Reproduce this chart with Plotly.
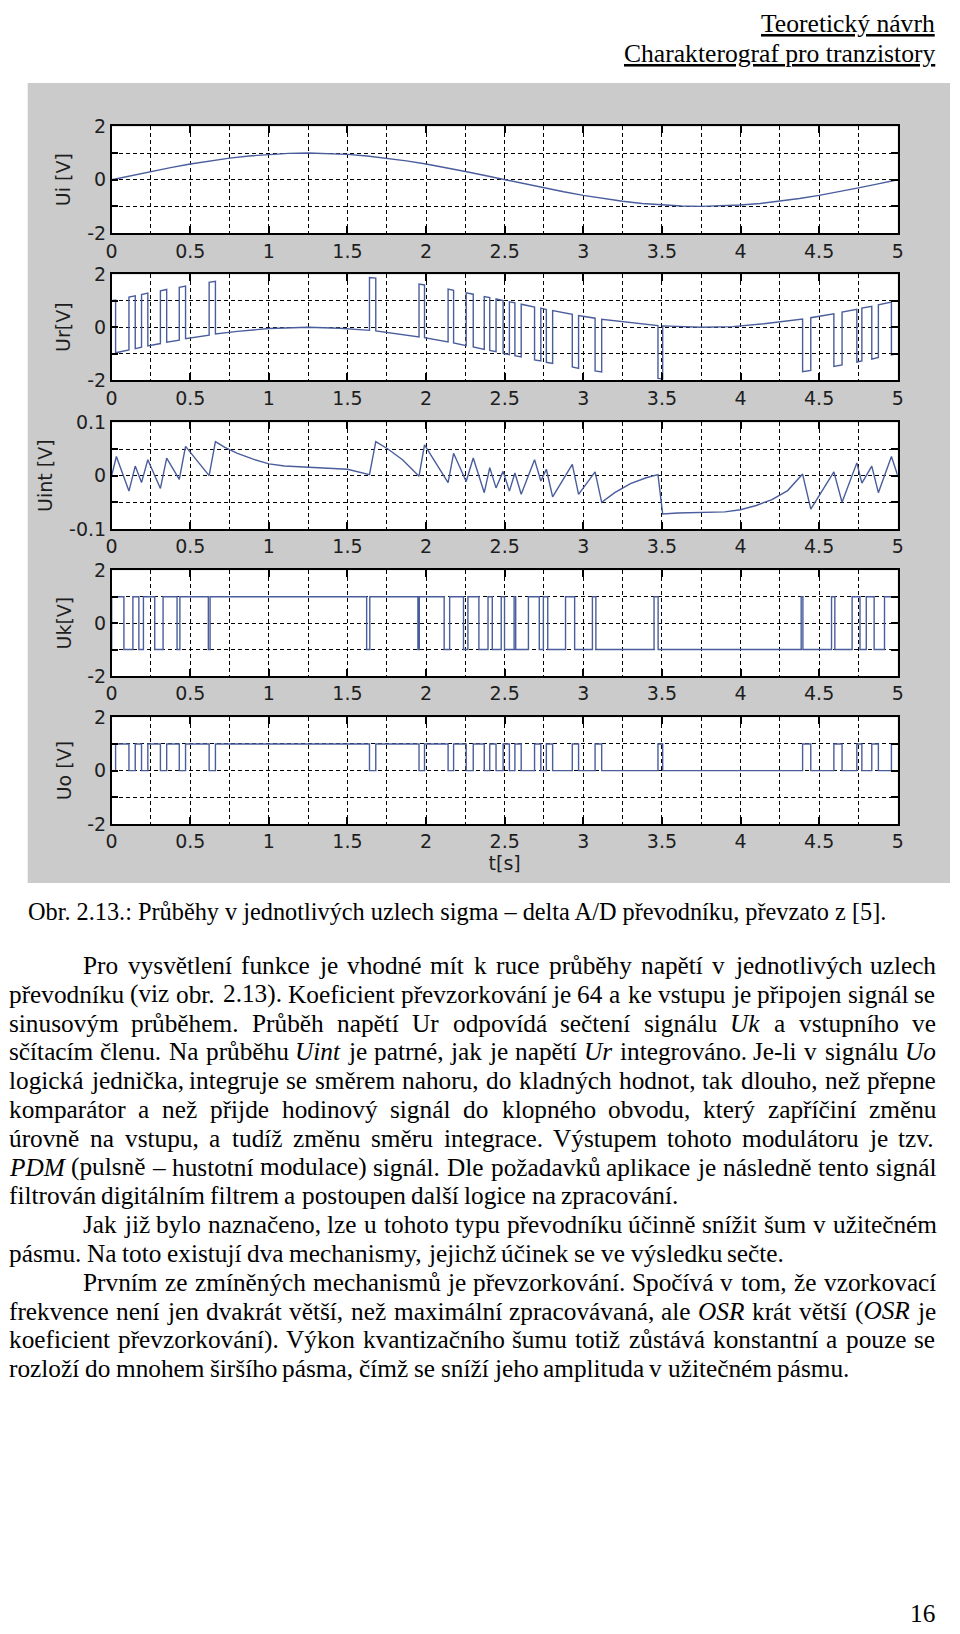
import unicodedata
import plotly.graph_objects as go

W, H = 960, 1634

# ------------------------------------------------------------------ data
t_ui = [0, 0.125, 0.25, 0.375, 0.5, 0.625, 0.75, 0.875, 1.0, 1.125, 1.25, 1.375, 1.5, 1.625,
        1.75, 1.875, 2.0, 2.125, 2.25, 2.375, 2.5, 2.625, 2.75, 2.875, 3.0, 3.125, 3.25, 3.375,
        3.5, 3.625, 3.75, 3.875, 4.0, 4.125, 4.25, 4.375, 4.5, 4.625, 4.75, 4.875, 5.0]
ui = [0.0, 0.156, 0.309, 0.454, 0.588, 0.707, 0.809, 0.891, 0.951, 0.988, 1.0, 0.988, 0.951, 0.891,
      0.809, 0.707, 0.588, 0.454, 0.309, 0.156, 0.0, -0.156, -0.309, -0.454, -0.588, -0.707, -0.809,
      -0.891, -0.951, -0.988, -1.0, -0.988, -0.951, -0.891, -0.809, -0.707, -0.588, -0.454, -0.309,
      -0.156, 0.0]

ur_t = [0, 0.025, 0.025, 0.11, 0.11, 0.15, 0.15, 0.19, 0.19, 0.23, 0.23, 0.31, 0.31, 0.35, 0.35,
        0.43, 0.43, 0.47, 0.47, 0.62, 0.62, 0.66, 0.66, 0.8, 1.0, 1.25, 1.45, 1.64, 1.64, 1.68, 1.68,
        1.8, 1.955, 1.955, 1.99, 1.99, 2.14, 2.14, 2.175, 2.175, 2.255, 2.255, 2.30, 2.30, 2.37, 2.37,
        2.405, 2.405, 2.445, 2.445, 2.49, 2.49, 2.53, 2.53, 2.565, 2.565, 2.605, 2.605, 2.69, 2.69,
        2.73, 2.73, 2.765, 2.765, 2.805, 2.805, 2.93, 2.93, 2.97, 2.97, 3.075, 3.075, 3.117, 3.117,
        3.3, 3.475, 3.475, 3.505, 3.505, 3.6, 3.75, 3.95, 4.15, 4.395, 4.395, 4.447, 4.447, 4.594,
        4.594, 4.646, 4.646, 4.74, 4.74, 4.772, 4.772, 4.835, 4.835, 4.877, 4.877, 4.96, 4.96, 5.0]
ur_v = [1.0, 1.03, -0.97, -0.86, 1.14, 1.19, -0.81, -0.76, 1.24, 1.29, -0.71, -0.62, 1.38, 1.43, -0.57,
        -0.49, 1.51, 1.56, -0.44, -0.30, 1.70, 1.74, -0.26, -0.16, -0.05, 0.0, -0.04, -0.12, 1.88, 1.86, -0.14,
        -0.23, -0.37, 1.63, 1.60, -0.40, -0.56, 1.44, 1.40, -0.60, -0.70, 1.30, 1.25, -0.75, -0.84, 1.16,
        1.12, -0.88, -0.93, 1.07, 1.01, -0.99, -1.04, 0.96, 0.92, -1.08, -1.13, 0.87, 0.76, -1.24,
        -1.28, 0.72, 0.67, -1.33, -1.37, 0.63, 0.49, -1.51, -1.56, 0.44, 0.34, -1.66, -1.70, 0.30,
        0.17, 0.06, -1.94, -1.95, 0.05, 0.02, 0.0, 0.02, 0.13, 0.31, -1.69, -1.64, 0.36, 0.51,
        -1.49, -1.43, 0.57, 0.68, -1.32, -1.28, 0.72, 0.79, -1.21, -1.15, 0.85, 0.95, -1.05, -1.0]

uint_t = [0, 0.03, 0.11, 0.15, 0.19, 0.23, 0.31, 0.35, 0.43, 0.47, 0.62, 0.66, 0.72, 0.8, 0.9, 1.0,
          1.1, 1.25, 1.4, 1.5, 1.64, 1.68, 1.757, 1.85, 1.955, 1.99, 2.14, 2.175, 2.255, 2.30, 2.37,
          2.405, 2.445, 2.49, 2.53, 2.565, 2.605, 2.69, 2.73, 2.765, 2.805, 2.93, 2.97, 3.075, 3.117,
          3.2, 3.3, 3.4, 3.475, 3.505, 3.6, 3.75, 3.9, 4.0, 4.1, 4.2, 4.3, 4.395, 4.447, 4.594,
          4.646, 4.74, 4.772, 4.835, 4.877, 4.96, 5.0]
uint_v = [0.0, 0.036, -0.029, 0.018, -0.013, 0.030, -0.024, 0.033, -0.007, 0.055, 0.0, 0.064, 0.053,
          0.042, 0.031, 0.022, 0.018, 0.016, 0.014, 0.012, 0.002, 0.064, 0.050, 0.030, -0.001, 0.058,
          -0.013, 0.042, -0.011, 0.033, -0.032, 0.015, -0.023, 0.008, -0.029, 0.005, -0.035, 0.030,
          -0.010, 0.012, -0.040, 0.021, -0.035, 0.007, -0.050, -0.032, -0.015, -0.004, 0.002, -0.072,
          -0.070, -0.069, -0.068, -0.064, -0.056, -0.045, -0.028, 0.003, -0.063, 0.007, -0.050,
          0.024, -0.014, 0.018, -0.032, 0.036, 0.0]

uk_t = [0, 0, 0.078, 0.135, 0.173, 0.202, 0.274, 0.327, 0.416, 0.434, 0.615, 0.626, 1.622, 1.642,
        1.948, 1.957, 2.115, 2.150, 2.238, 2.266, 2.336, 2.394, 2.421, 2.478, 2.499, 2.560, 2.570,
        2.651, 2.720, 2.746, 2.774, 2.887, 2.945, 3.058, 3.080, 3.450, 3.476, 4.386, 4.397, 4.579,
        4.600, 4.710, 4.760, 4.800, 4.850, 4.916, 5.0]
uk_v = [-1, 1, -1, 1, -1, 1, -1, 1, -1, 1, -1, 1, -1, 1, -1, 1, -1, 1, -1, 1, -1, 1, -1, 1,
        -1, 1, -1, 1, -1, 1, -1, 1, -1, 1, -1, 1, -1, 1, -1, 1, -1, 1, -1, 1, -1, 1, 1]

uo_t = [0, 0.025, 0.11, 0.15, 0.19, 0.23, 0.31, 0.35, 0.43, 0.47, 0.62, 0.66, 1.64, 1.68, 1.955, 1.99,
        2.14, 2.175, 2.255, 2.30, 2.37, 2.405, 2.445, 2.49, 2.53, 2.565, 2.605, 2.69, 2.73, 2.765,
        2.805, 2.93, 2.97, 3.075, 3.117, 3.475, 3.505, 4.395, 4.447, 4.594, 4.646, 4.74, 4.772,
        4.835, 4.877, 4.96, 5.0]
uo_v = [0, 1, 0, 1, 0, 1, 0, 1, 0, 1, 0, 1, 0, 1, 0, 1, 0, 1, 0, 1, 0, 1, 0, 1,
        0, 1, 0, 1, 0, 1, 0, 1, 0, 1, 0, 1, 0, 1, 0, 1, 0, 1, 0, 1, 0, 1, 1]

x_tickvals = [0, 0.5, 1, 1.5, 2, 2.5, 3, 3.5, 4, 4.5, 5]
x_ticktext = ['0', '0.5', '1', '1.5', '2', '2.5', '3', '3.5', '4', '4.5', '5']
y_titles = ['Ui [V]', 'Ur[V]', 'Uint [V]', 'Uk[V]', 'Uo [V]']
y_tickvals_v = [-2, -1, 0, 1, 2]
y_ticktext_v = ['-2', '', '0', '', '2']
y_tickvals_int = [-0.1, -0.05, 0, 0.05, 0.1]
y_ticktext_int = ['-0.1', '', '0', '', '0.1']

header_lines = ['Teoretický návrh', 'Charakterograf pro tranzistory']
caption = 'Obr. 2.13.: Průběhy v jednotlivých uzlech sigma – delta A/D převodníku, převzato z [5].'
body_lines = [
    ('Pro vysvětlení funkce je vhodné mít k ruce průběhy napětí v jednotlivých uzlech', True, True),
    ('převodníku (viz obr. 2.13). Koeficient převzorkování je 64 a ke vstupu je připojen signál se', False, True),
    ('sinusovým průběhem. Průběh napětí Ur odpovídá sečtení signálu *Uk* a vstupního ve', False, True),
    ('sčítacím členu. Na průběhu *Uint* je patrné, jak je napětí *Ur* integrováno. Je-li v signálu *Uo*', False, True),
    ('logická jednička, integruje se směrem nahoru, do kladných hodnot, tak dlouho, než přepne', False, True),
    ('komparátor a než přijde hodinový signál do klopného obvodu, který zapříčiní změnu', False, True),
    ('úrovně na vstupu, a tudíž změnu směru integrace. Výstupem tohoto modulátoru je tzv.', False, True),
    ('*PDM* (pulsně – hustotní modulace) signál. Dle požadavků aplikace je následně tento signál', False, True),
    ('filtrován digitálním filtrem a postoupen další logice na zpracování.', False, False),
    ('Jak již bylo naznačeno, lze u tohoto typu převodníku účinně snížit šum v užitečném', True, True),
    ('pásmu. Na toto existují dva mechanismy, jejichž účinek se ve výsledku sečte.', False, False),
    ('Prvním ze zmíněných mechanismů je převzorkování. Spočívá v tom, že vzorkovací', True, True),
    ('frekvence není jen dvakrát větší, než maximální zpracovávaná, ale *OSR* krát větší (*OSR* je', False, True),
    ('koeficient převzorkování). Výkon kvantizačního šumu totiž zůstává konstantní a pouze se', False, True),
    ('rozloží do mnohem širšího pásma, čímž se sníží jeho amplituda v užitečném pásmu.', False, False),
]
page_number = '16'

# ------------------------------------------------------------------ layout helpers
PLOT_L, PLOT_R = 107, 903
PANELS = [(117, 225), (267, 374), (417, 525), (567, 674), (716, 824)]
LINE_COLOR = '#4a5d9c'
AX_FONT = dict(family='DejaVu Sans', size=19, color='#1e1e1e')
SERIF = 'Liberation Serif'
BODY_SIZE = 25.3
CAPTION_SIZE = 24.3
HEADER_SIZE = 25.6


def px_x(v):
    return v / W


def px_y(v):
    return 1 - v / H


def ax_id(i):
    return '' if i == 1 else str(i)


fig = go.Figure()

series = [(t_ui, ui, 'linear'), (ur_t, ur_v, 'linear'), (uint_t, uint_v, 'linear'),
          (uk_t, uk_v, 'hv'), (uo_t, uo_v, 'hv')]
for i, (xs, ys, shape) in enumerate(series, start=1):
    fig.add_trace(go.Scatter(x=xs, y=ys, mode='lines', line=dict(color=LINE_COLOR, width=1.4, shape=shape),
                             xaxis=f'x{ax_id(i)}', yaxis=f'y{ax_id(i)}', showlegend=False, hoverinfo='skip'))

layout = dict(width=W, height=H, margin=dict(l=0, r=0, t=0, b=0), autosize=False,
              paper_bgcolor='white', plot_bgcolor='white', showlegend=False)

grid_common = dict(showgrid=True, gridcolor='black', gridwidth=1, griddash='4px,3px')
for i, (top, bot) in enumerate(PANELS, start=1):
    xa = dict(domain=[px_x(PLOT_L), px_x(PLOT_R)], range=[0, 5], anchor=f'y{ax_id(i)}',
              tickmode='array', tickvals=x_tickvals, ticktext=x_ticktext,
              ticks='inside', ticklen=7, tickwidth=1.5, tickcolor='black',
              showline=True, linecolor='black', linewidth=1.5, mirror='ticks',
              zeroline=False, tickfont=AX_FONT, fixedrange=True,
              minor=dict(dtick=0.25, tick0=0, ticks='', **grid_common), **grid_common)
    if i == 5:
        xa['title'] = dict(text='t[s]', font=AX_FONT, standoff=4)
    if i == 3:
        yv, yt, yr = y_tickvals_int, y_ticktext_int, [-0.1, 0.1]
    else:
        yv, yt, yr = y_tickvals_v, y_ticktext_v, [-2, 2]
    ya = dict(domain=[px_y(bot), px_y(top)], range=yr, anchor=f'x{ax_id(i)}',
              tickmode='array', tickvals=yv, ticktext=yt,
              ticks='inside', ticklen=7, tickwidth=1.5, tickcolor='black',
              showline=True, linecolor='black', linewidth=1.5, mirror='ticks',
              zeroline=False, tickfont=AX_FONT, fixedrange=True,
              title=dict(text=y_titles[i - 1], font=AX_FONT, standoff=11), **grid_common)
    layout[f'xaxis{ax_id(i)}'] = xa
    layout[f'yaxis{ax_id(i)}'] = ya

shapes = [dict(type='rect', xref='paper', yref='paper', x0=px_x(22), x1=px_x(956), y0=px_y(884),
               y1=px_y(73), fillcolor='#cbcbcb', line=dict(width=0), layer='below')]
for i in range(1, 6):
    shapes.append(dict(type='rect', xref=f'x{ax_id(i)} domain', yref=f'y{ax_id(i)} domain',
                       x0=0, x1=1, y0=0, y1=1,
                       fillcolor='white', line=dict(width=0), layer='below'))
layout['shapes'] = shapes

# ------------------------------------------------------------------ text (Times metrics)
TR = {' ': 250, '!': 333, '(': 333, ')': 333, ',': 250, '-': 333, '.': 250, '/': 278, ':': 278,
      ';': 278, '[': 333, ']': 333, '–': 500, '?': 444,
      'A': 722, 'B': 667, 'C': 667, 'D': 722, 'E': 611, 'F': 556, 'G': 722, 'H': 722, 'I': 333,
      'J': 389, 'K': 722, 'L': 611, 'M': 889, 'N': 722, 'O': 722, 'P': 556, 'Q': 722, 'R': 667,
      'S': 556, 'T': 611, 'U': 722, 'V': 722, 'W': 944, 'X': 722, 'Y': 722, 'Z': 611,
      'a': 444, 'b': 500, 'c': 444, 'd': 500, 'e': 444, 'f': 333, 'g': 500, 'h': 500, 'i': 278,
      'j': 278, 'k': 500, 'l': 278, 'm': 778, 'n': 500, 'o': 500, 'p': 500, 'q': 500, 'r': 333,
      's': 389, 't': 278, 'u': 500, 'v': 500, 'w': 722, 'x': 500, 'y': 500, 'z': 444}
TI = dict(TR)
TI.update({'D': 722, 'M': 833, 'O': 722, 'P': 611, 'R': 611, 'S': 500, 'U': 722, 'i': 278, 'k': 444,
           'n': 500, 'o': 500, 'r': 389, 't': 278})


def seg_width(s, size, italic):
    tbl = TI if italic else TR
    w = 0
    for ch in s:
        base = unicodedata.normalize('NFD', ch)[0]
        w += tbl.get(ch, tbl.get(base, 500))
    return w * size / 1000.0


def word_parts(word):
    parts = word.split('*')
    return [(p, k % 2 == 1) for k, p in enumerate(parts) if p]


annotations = []


def add_text(text, x, y, size, xanchor='left', family=SERIF):
    annotations.append(dict(text=text, x=px_x(x), y=px_y(y), xref='paper', yref='paper',
                            xanchor=xanchor, yanchor='middle', showarrow=False,
                            borderpad=0, borderwidth=0,
                            font=dict(family=family, size=size, color='black')))


# header
add_text('<u>' + header_lines[0] + '</u>', 941, 13, HEADER_SIZE, xanchor='right')
add_text('<u>' + header_lines[1] + '</u>', 941, 43, HEADER_SIZE, xanchor='right')

# caption
add_text(caption, 22, 913, CAPTION_SIZE)

TEXT_L, TEXT_R, INDENT = 3, 941, 78
LINE0, LINE_STEP = 967, 29.2
for k, (line, indent, justify) in enumerate(body_lines):
    y = LINE0 + k * LINE_STEP
    x0 = INDENT if indent else TEXT_L
    words = line.split(' ')
    parts = [word_parts(w) for w in words]
    widths = [sum(seg_width(p, BODY_SIZE, it) for p, it in ps) for ps in parts]
    if justify and len(words) > 1:
        gap = (TEXT_R - x0 - sum(widths)) / (len(words) - 1)
    else:
        gap = 0.25 * BODY_SIZE
    x = x0
    for ps, wdt in zip(parts, widths):
        html = ''.join(f'<i>{p}</i>' if it else p for p, it in ps)
        add_text(html, x, y, BODY_SIZE)
        x += wdt + gap

add_text(page_number, 941, 1624, BODY_SIZE, xanchor='right')

layout['annotations'] = annotations
fig.update_layout(**layout)
fig.write_html('out.html')
